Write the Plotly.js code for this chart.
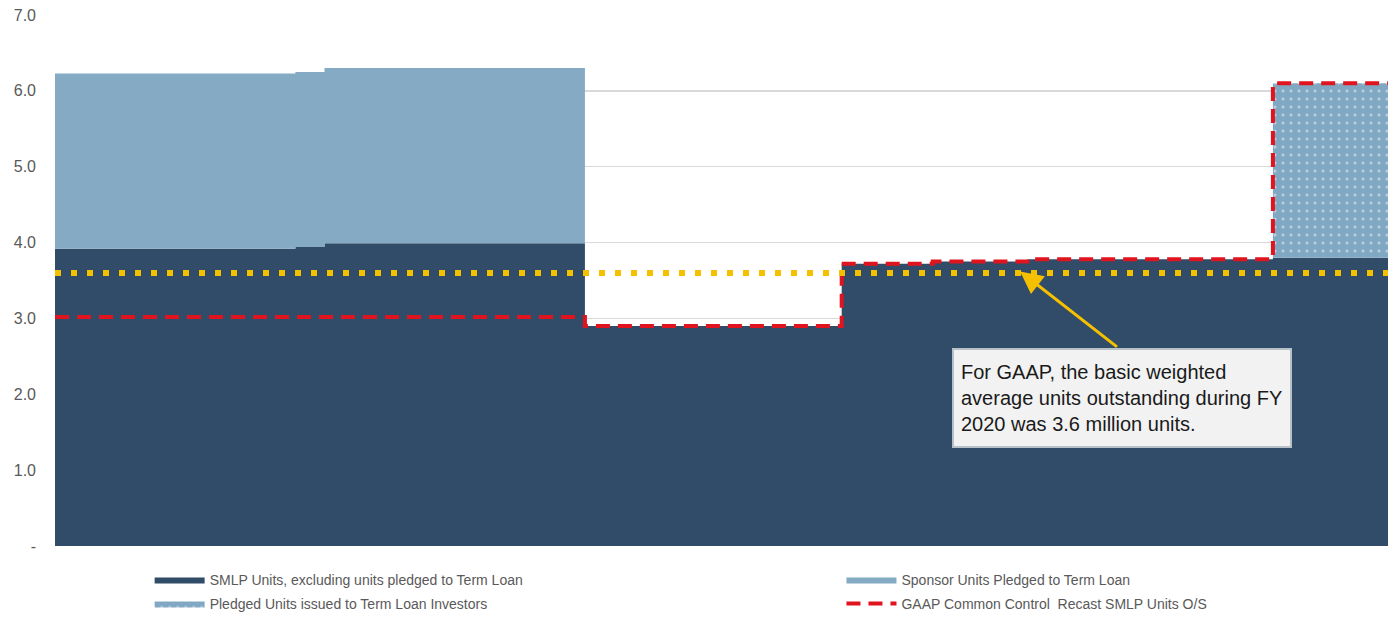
<!DOCTYPE html>
<html>
<head>
<meta charset="utf-8">
<script src="https://cdn.plot.ly/plotly-3.0.1.min.js"></script>
<style>html,body{margin:0;padding:0;background:#fff;}#chart{width:1397px;height:617px;}</style>
</head>
<body>
<div id="chart"></div>
<script>
// Day of fiscal year 2020 at which each step begins
const xDays = [0, 66, 74, 145.5, 216, 241, 267, 334.4, 366];
// Millions of units
const smlpUnits     = [3.92, 3.94, 3.99, 2.90, 3.72, 3.75, 3.78, 3.80, 3.80];
const sponsorUnits  = [2.31, 2.31, 2.31, 0, 0, 0, 0, 0, 0];
const pledgedUnits  = [0, 0, 0, 0, 0, 0, 0, 2.30, 2.30];
const gaapRecast    = [3.02, 3.02, 3.02, 2.90, 3.72, 3.75, 3.78, 6.10, 6.10];
const weightedAvgX  = [0, 366];
const weightedAvg   = [3.6, 3.6];
const yTickVals = [0, 1, 2, 3, 4, 5, 6, 7];
const yTickText = ['-', '1.0', '2.0', '3.0', '4.0', '5.0', '6.0', '7.0'];

const FONT = 'Liberation Sans, Arial, sans-serif';

const traces = [
  {
    name: 'SMLP Units, excluding units pledged to Term Loan',
    x: xDays, y: smlpUnits, type: 'scatter', mode: 'lines',
    stackgroup: 'a', line: {shape: 'hv', width: 0, color: '#304c69'},
    fillcolor: '#304c69', legend: 'legend', hoverinfo: 'skip'
  },
  {
    name: 'Sponsor Units Pledged to Term Loan',
    x: xDays, y: sponsorUnits, type: 'scatter', mode: 'lines',
    stackgroup: 'a', line: {shape: 'hv', width: 0, color: '#84aac4'},
    fillcolor: '#84aac4', legend: 'legend2', hoverinfo: 'skip'
  },
  {
    name: 'Pledged Units issued to Term Loan Investors',
    x: xDays, y: pledgedUnits, type: 'scatter', mode: 'lines',
    stackgroup: 'a', line: {shape: 'hv', width: 0, color: '#84aac4'},
    fillcolor: '#84aac4',
    fillpattern: {shape: '.', bgcolor: '#80a8c3', fgcolor: '#b9cfdf', size: 8, solidity: 0.12},
    legend: 'legend3', hoverinfo: 'skip'
  },
  {
    name: 'GAAP Common Control  Recast SMLP Units O/S',
    x: xDays, y: gaapRecast, type: 'scatter', mode: 'lines',
    line: {shape: 'hv', width: 4, color: '#e0141e', dash: '14px,8px'},
    legend: 'legend4', hoverinfo: 'skip'
  },
  {
    name: 'Weighted average',
    x: weightedAvgX, y: weightedAvg, type: 'scatter', mode: 'lines',
    line: {width: 6, color: '#f5c000', dash: '6px,10px'},
    showlegend: false, hoverinfo: 'skip'
  }
];

const legendCommon = {
  orientation: 'v', yanchor: 'middle', xanchor: 'left',
  font: {family: FONT, size: 14, color: '#595959'},
  bgcolor: 'rgba(0,0,0,0)', itemwidth: 50, traceorder: 'normal',
  itemclick: false, itemdoubleclick: false
};

const layout = {
  width: 1397, height: 617,
  margin: {l: 55, r: 9, t: 15, b: 71, autoexpand: false},
  paper_bgcolor: '#ffffff', plot_bgcolor: '#ffffff',
  showlegend: true,
  font: {family: FONT, color: '#595959'},
  xaxis: {range: [0, 366], visible: false, fixedrange: true},
  yaxis: {
    range: [0, 7], tickvals: yTickVals, ticktext: yTickText,
    showgrid: true, gridcolor: '#d9d9d9', gridwidth: 1.3,
    zeroline: false, showline: false, ticks: '',
    ticklabelstandoff: 18,
    tickfont: {family: FONT, size: 16, color: '#595959'}, fixedrange: true
  },
  legend:  Object.assign({}, legendCommon, {x: 0.071, y: -0.064}),
  legend2: Object.assign({}, legendCommon, {x: 0.590, y: -0.064}),
  legend3: Object.assign({}, legendCommon, {x: 0.071, y: -0.109}),
  legend4: Object.assign({}, legendCommon, {x: 0.590, y: -0.109}),
  annotations: [
    {
      xref: 'paper', yref: 'paper', x: 0.673, y: 0.373,
      xanchor: 'left', yanchor: 'top', showarrow: false, align: 'left',
      text: 'For GAAP, the basic weighted<br>average units outstanding during FY<br>2020 was 3.6 million units.',
      font: {family: FONT, size: 20, color: '#1a1a1a'},
      bgcolor: '#f2f2f2', bordercolor: '#b8c0c8', borderwidth: 2, borderpad: 7,
      width: 322, height: 82, valign: 'middle'
    },
    {
      xref: 'x', yref: 'y', x: 265, y: 3.62,
      axref: 'x', ayref: 'y', ax: 292, ay: 2.61,
      text: '', showarrow: true, arrowhead: 2, arrowsize: 1.5,
      arrowwidth: 3, arrowcolor: '#f5c000', standoff: 0
    }
  ]
};

Plotly.newPlot('chart', traces, layout, {displayModeBar: false, staticPlot: true});
</script>
</body>
</html>
